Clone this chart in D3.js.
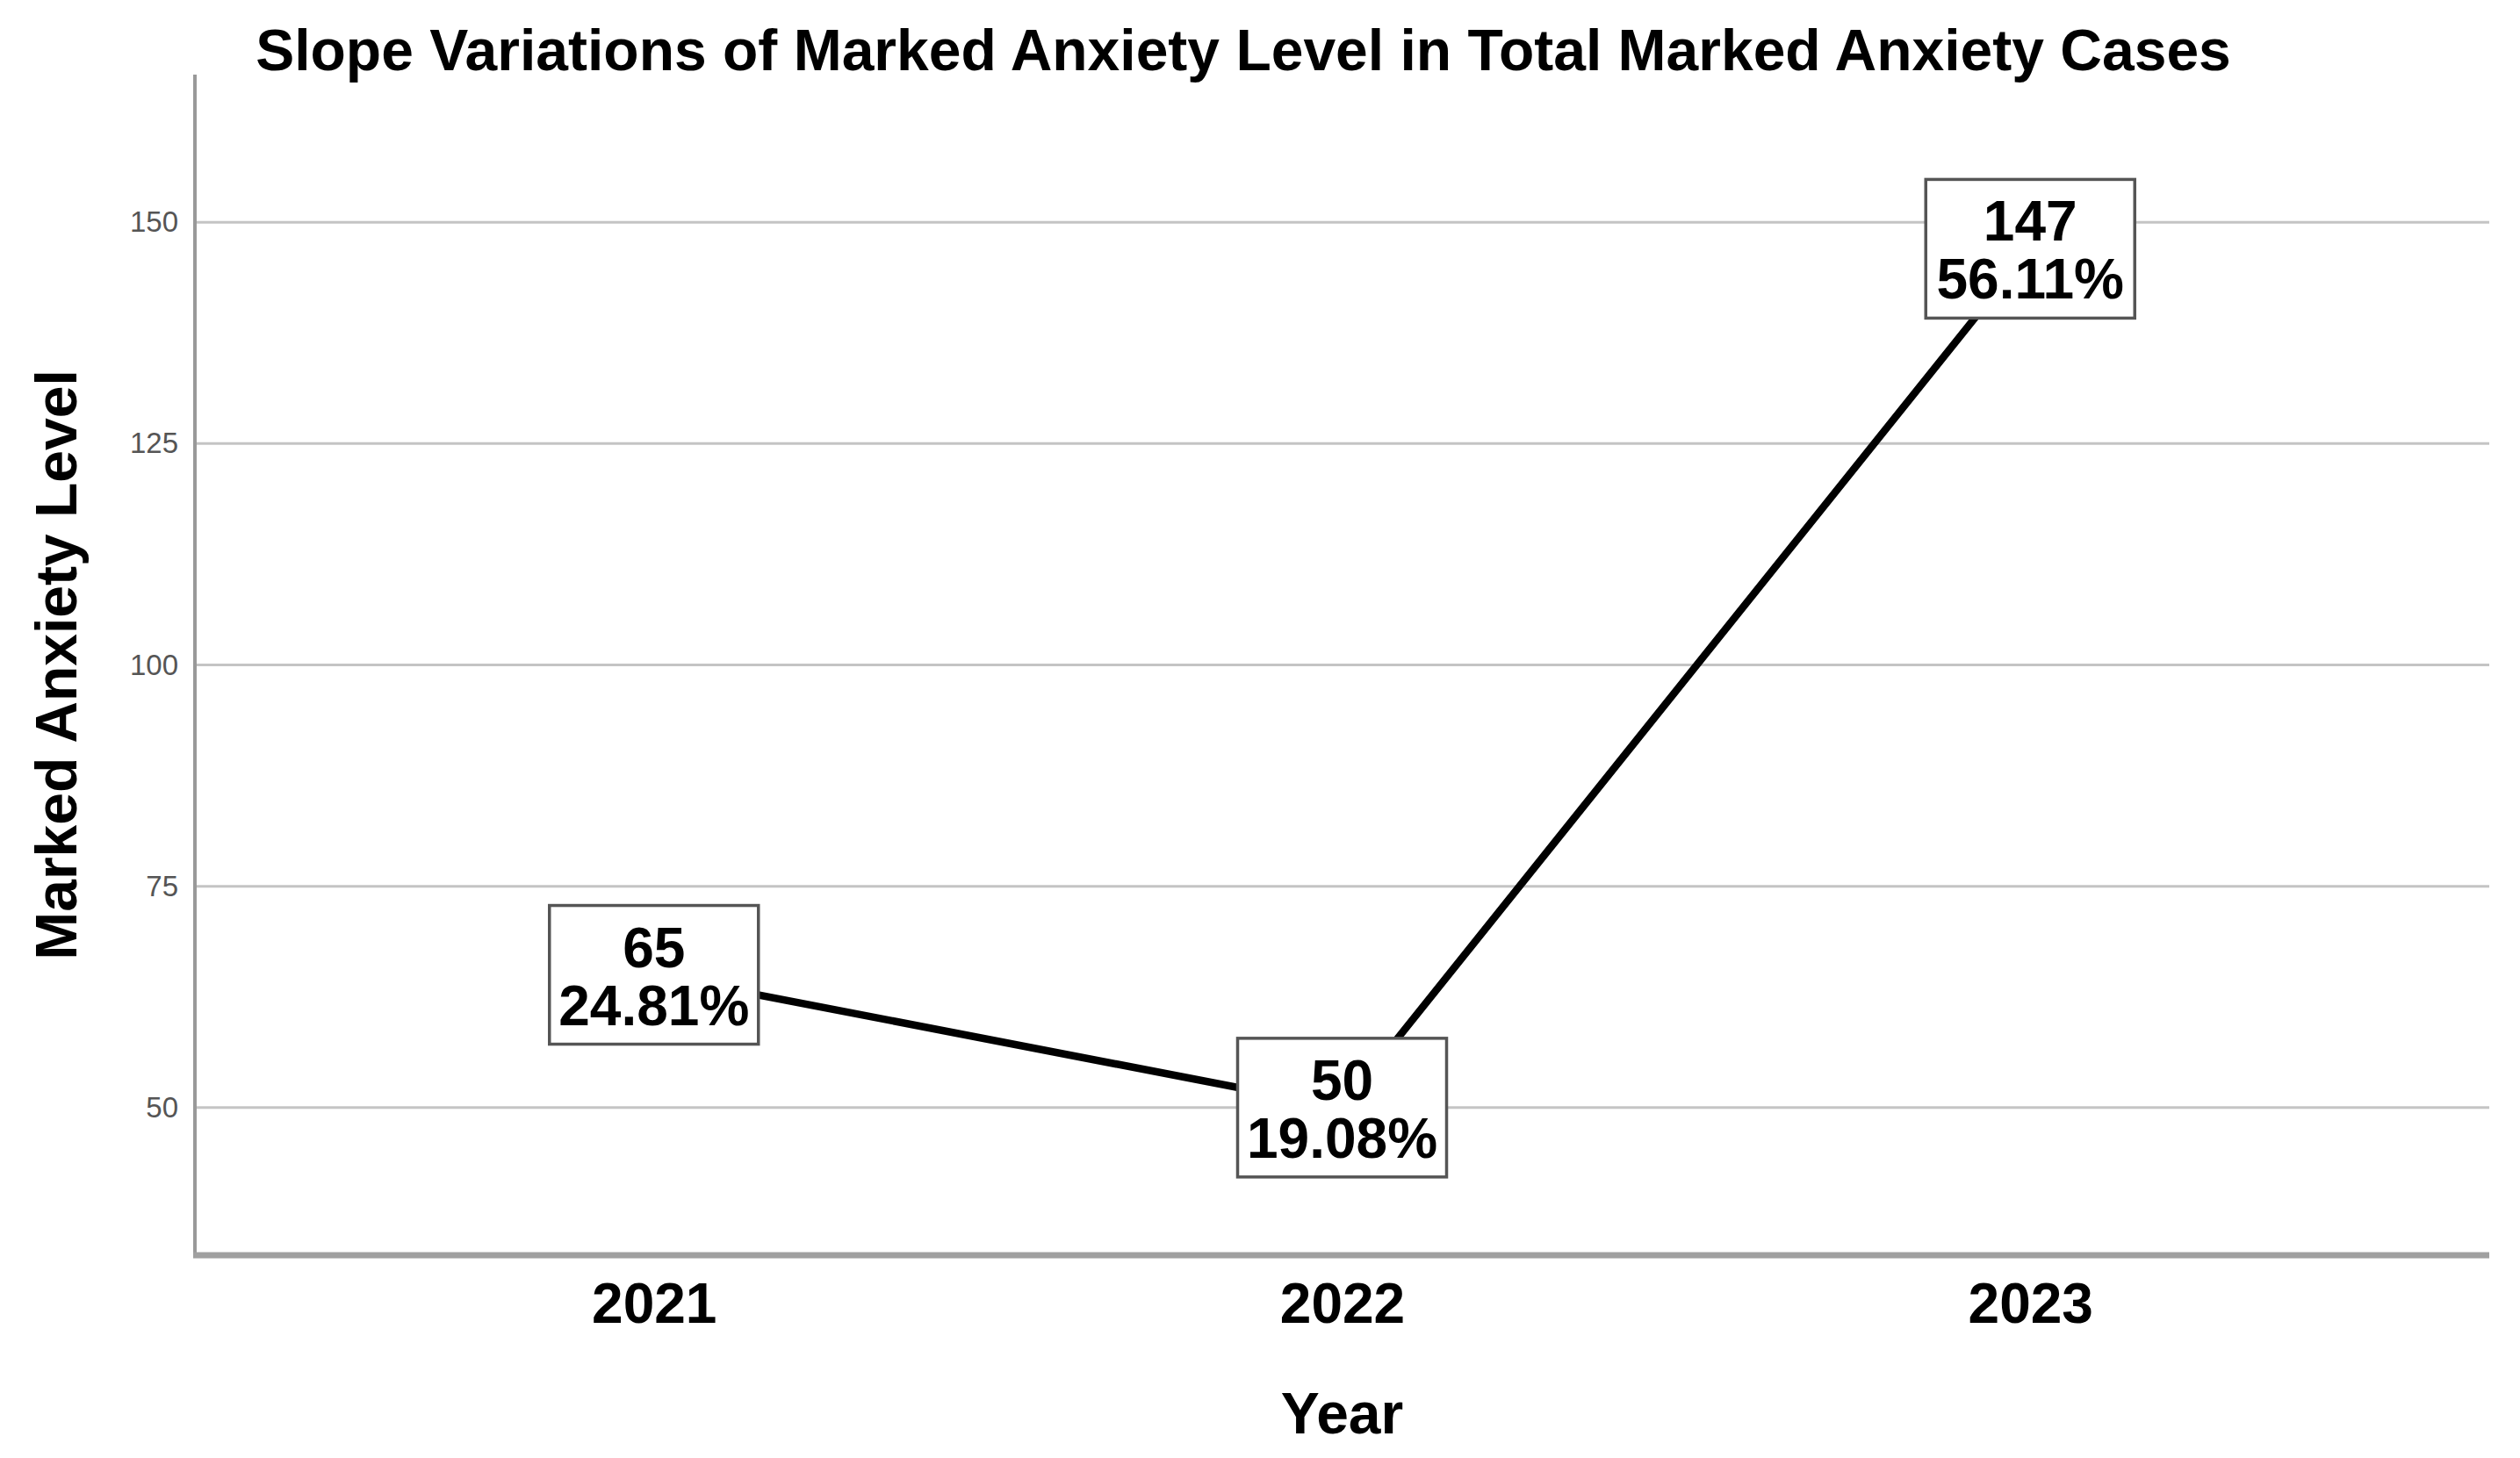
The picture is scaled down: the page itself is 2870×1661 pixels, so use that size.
<!DOCTYPE html>
<html>
<head>
<meta charset="utf-8">
<script src="https://cdn.jsdelivr.net/npm/d3@7"></script>
<style>
html, body { margin: 0; padding: 0; background: #fff; }
svg { display: block; font-family: "Liberation Sans", Arial, sans-serif; }
</style>
</head>
<body>
<div id="chart"></div>
<script>
// data
const years = ['2021', '2022', '2023'];
const counts = [65, 50, 147];
const shares = ['24.81%', '19.08%', '56.11%'];
const yTicks = [50, 75, 100, 125, 150];

(function(){
const W = 2870, H = 1661;
const pLeft = 222, pRight = 2835, pTop = 85, pBottom = 1430;

const svg = d3.select('#chart').append('svg').attr('width', W).attr('height', H);
svg.append('rect').attr('width', W).attr('height', H).attr('fill', '#fff');

const x = d3.scalePoint().domain(years).range([pLeft, pRight]).padding(0.667);
const y = d3.scaleLinear().domain([33.33, 166.67]).range([pBottom, pTop]);

// gridlines
svg.append('g').selectAll('line').data(yTicks).enter().append('line')
  .attr('x1', pLeft).attr('x2', pRight)
  .attr('y1', d => y(d)).attr('y2', d => y(d))
  .attr('stroke', '#c4c4c4').attr('stroke-width', 3);

// y axis
const yAxis = svg.append('g').attr('transform', `translate(${pLeft},0)`)
  .call(d3.axisLeft(y).tickValues(yTicks).tickSize(0).tickPadding(19));
yAxis.select('.domain').remove();
yAxis.selectAll('text').attr('font-size', 33).attr('fill', '#555')
  .attr('font-family', '"Liberation Sans", Arial, sans-serif');

// x axis
const xAxis = svg.append('g').attr('transform', `translate(0,${pBottom})`)
  .call(d3.axisBottom(x).tickSize(0).tickPadding(32));
xAxis.select('.domain').remove();
xAxis.selectAll('text').attr('font-size', 64).attr('font-weight', 'bold').attr('fill', '#000')
  .attr('font-family', '"Liberation Sans", Arial, sans-serif');

// axis lines
svg.append('line').attr('x1', pLeft).attr('x2', pLeft).attr('y1', pTop).attr('y2', pBottom + 3)
  .attr('stroke', '#999').attr('stroke-width', 4);
svg.append('line').attr('x1', pLeft - 2).attr('x2', pRight).attr('y1', pBottom).attr('y2', pBottom)
  .attr('stroke', '#a0a0a0').attr('stroke-width', 7);

// line
const line = d3.line().x((d, i) => x(years[i])).y(d => y(d));
svg.append('path').datum(counts)
  .attr('d', line)
  .attr('fill', 'none').attr('stroke', '#000').attr('stroke-width', 8.5)
  .attr('stroke-linejoin', 'round');

// labels
const boxW = 238, boxH = 158;
const lab = svg.append('g').selectAll('g').data(counts).enter().append('g')
  .attr('transform', (d, i) => `translate(${x(years[i])},${y(d)})`);
lab.append('rect')
  .attr('x', -boxW / 2).attr('y', -boxH / 2).attr('width', boxW).attr('height', boxH)
  .attr('fill', '#fff').attr('stroke', '#555').attr('stroke-width', 3.5);
lab.append('text').attr('text-anchor', 'middle').attr('y', -9)
  .attr('font-size', 64).attr('font-weight', 'bold').text(d => d);
lab.append('text').attr('text-anchor', 'middle').attr('y', 57)
  .attr('font-size', 64).attr('font-weight', 'bold').text((d, i) => shares[i]);

// titles
svg.append('text').attr('x', 1416).attr('y', 80).attr('text-anchor', 'middle')
  .attr('font-size', 66).attr('font-weight', 'bold')
  .text('Slope Variations of Marked Anxiety Level in Total Marked Anxiety Cases');

svg.append('text').attr('x', (pLeft + pRight) / 2).attr('y', 1633).attr('text-anchor', 'middle')
  .attr('font-size', 66).attr('font-weight', 'bold').text('Year');

svg.append('text').attr('transform', `translate(87,${(pTop + pBottom) / 2}) rotate(-90)`)
  .attr('text-anchor', 'middle')
  .attr('font-size', 66).attr('font-weight', 'bold').text('Marked Anxiety Level');
})();
</script>
</body>
</html>
